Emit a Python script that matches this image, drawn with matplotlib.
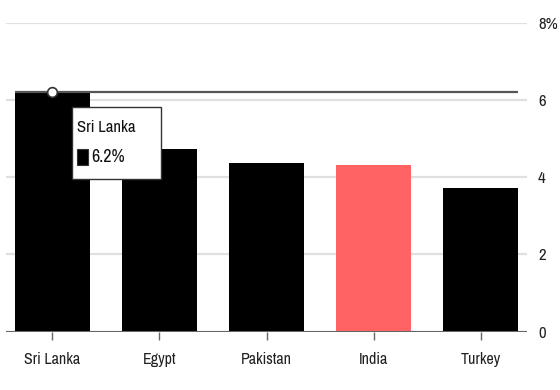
import matplotlib.pyplot as plt
from matplotlib.patches import Rectangle

plt.rcParams['font.family'] = ['Archivo Narrow', 'Liberation Sans', 'DejaVu Sans']

countries = ['Sri Lanka', 'Egypt', 'Pakistan', 'India', 'Turkey']
values = [6.22, 4.75, 4.37, 4.33, 3.72]
colors = ['#000000', '#000000', '#000000', '#ff6363', '#000000']
yticks = [0, 2, 4, 6, 8]
ytick_labels = ['0', '2', '4', '6', '8%']
highlight = 'Sri Lanka'
tooltip_value = '6.2%'

fig = plt.figure(figsize=(5.6, 3.9), dpi=100)
ax = fig.add_axes([6 / 560, 58.5 / 390, 521 / 560, 308.2 / 390])

x = range(len(countries))
ax.bar(x, values, width=0.7, color=colors, zorder=2)
ax.set_xlim(-0.43, 4.43)
ax.set_ylim(0, 8)

ax.set_yticks(yticks)
ax.set_yticklabels(ytick_labels)
ax.yaxis.tick_right()
ax.tick_params(axis='y', length=0, pad=8, labelsize=12, labelcolor='#222222')
ax.grid(axis='y', color='#e0e0e0', linewidth=1.6, zorder=0)

ax.set_xticks(list(x))
ax.set_xticklabels(countries)
ax.tick_params(axis='x', length=6, width=1, color='#666666', pad=9,
               labelsize=11.5, labelcolor='#222222')

for s in ax.spines.values():
    s.set_visible(False)
ax.axhline(0, color='#666666', linewidth=1.5, zorder=3)

# reference line at the highlighted value
i = countries.index(highlight)
hv = values[i]
ax.plot([i - 0.35, 4.35], [hv, hv], color='#555555', linewidth=1.6, zorder=3,
        solid_capstyle='butt')
ax.plot([i], [hv], marker='o', markersize=7, markerfacecolor='white',
        markeredgecolor='#333333', markeredgewidth=1.2, zorder=4, clip_on=False)

# tooltip
box = Rectangle((72 / 560, 1 - 179 / 390), 89 / 560, 72 / 390, transform=fig.transFigure,
                facecolor='white', edgecolor='#333333', linewidth=1.0, zorder=10)
fig.patches.append(box)
fig.text(77 / 560, 1 - 127.5 / 390, highlight, fontsize=12, color='#111111',
         va='center', ha='left', zorder=11)
sq = Rectangle((77 / 560, 1 - 165 / 390), 11 / 560, 16 / 390, transform=fig.transFigure,
               facecolor='#000000', edgecolor='#333333', linewidth=0.8, zorder=11)
fig.patches.append(sq)
fig.text(91 / 560, 1 - 157.5 / 390, tooltip_value, fontsize=13, color='#111111',
         va='center', ha='left', zorder=11)

fig.savefig('out.png', dpi=100, facecolor='white')
